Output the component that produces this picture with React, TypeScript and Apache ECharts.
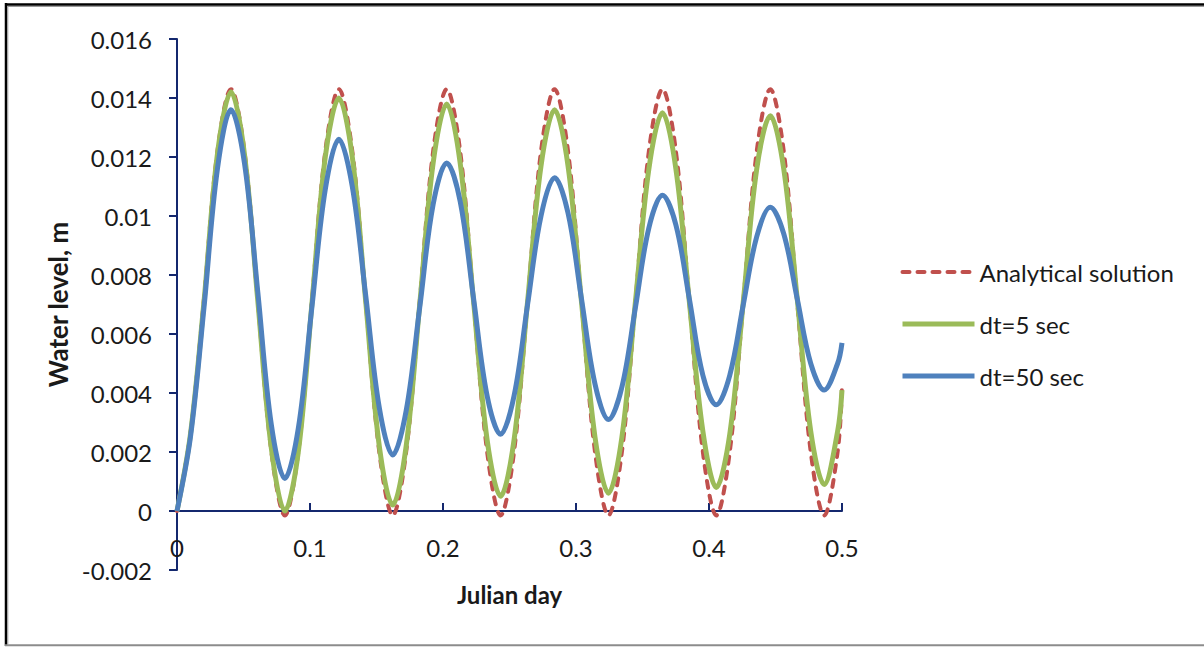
import React, { useEffect, useRef } from "react";
import * as echarts from "echarts";

// Julian day sample points (about eight per tidal cycle)
const julianDay = [
  0, 0.0101, 0.0203, 0.0304, 0.0406, 0.0507, 0.0608, 0.071, 0.0811,
  0.0912, 0.1014, 0.1115, 0.1217, 0.1318, 0.1419, 0.1521, 0.1622,
  0.1723, 0.1825, 0.1926, 0.2028, 0.2129, 0.223, 0.2332, 0.2433,
  0.2534, 0.2636, 0.2737, 0.2839, 0.294, 0.3041, 0.3143, 0.3244,
  0.3345, 0.3447, 0.3548, 0.365, 0.3751, 0.3852, 0.3954, 0.4055,
  0.4156, 0.4258, 0.4359, 0.4461, 0.4562, 0.4663, 0.4765, 0.4866,
  0.4967, 0.5,
];

// Water level, m
const analytical = [
  0, 0.0026, 0.0072, 0.0122, 0.0143, 0.0122, 0.0071, 0.002, -0.00015,
  0.002, 0.0071, 0.0122, 0.0143, 0.0122, 0.0071, 0.002, -0.00015,
  0.002, 0.0071, 0.0122, 0.0143, 0.0122, 0.0071, 0.002, -0.00015,
  0.002, 0.0071, 0.0122, 0.0143, 0.0122, 0.0071, 0.002, -0.00015,
  0.002, 0.0071, 0.0122, 0.0143, 0.0122, 0.0071, 0.002, -0.00015,
  0.002, 0.0071, 0.0122, 0.0143, 0.0122, 0.0071, 0.002, -0.00015,
  0.002, 0.0042,
];

const dt5 = [
  0, 0.0026, 0.0071, 0.0121, 0.0142, 0.0121, 0.0071, 0.0021, 0.0,
  0.002, 0.007, 0.012, 0.014, 0.012, 0.0071, 0.0022, 0.0002,
  0.0022, 0.007, 0.0118, 0.0138, 0.0118, 0.0071, 0.0024, 0.0005,
  0.0024, 0.0071, 0.0117, 0.0136, 0.0117, 0.0071, 0.0025, 0.0006,
  0.0025, 0.0071, 0.0116, 0.0135, 0.0116, 0.0071, 0.0027, 0.0008,
  0.0026, 0.0071, 0.0116, 0.0134, 0.0116, 0.0072, 0.0027, 0.0009,
  0.0027, 0.0041,
];

const dt50 = [
  0, 0.0025, 0.0069, 0.0116, 0.0136, 0.0118, 0.0074, 0.0029, 0.0011,
  0.0028, 0.0069, 0.0109, 0.0126, 0.011, 0.0073, 0.0035, 0.0019,
  0.0034, 0.0069, 0.0104, 0.0118, 0.0105, 0.0072, 0.0039, 0.0026,
  0.0039, 0.007, 0.01, 0.0113, 0.0101, 0.0072, 0.0043, 0.0031,
  0.0042, 0.0069, 0.0096, 0.0107, 0.0097, 0.0072, 0.0046, 0.0036,
  0.0046, 0.007, 0.0093, 0.0103, 0.0094, 0.0072, 0.005, 0.0041,
  0.005, 0.0057,
];

const seriesNames = ["Analytical solution", "dt=5 sec", "dt=50 sec"];

const FONT = "Lato, 'Noto Sans', sans-serif";
const AXIS_COLOR = "#14286E";
const TEXT_COLOR = "#1a1a1a";

const pair = (ys: number[]) => julianDay.map((x, i) => [x, ys[i]]);

export default function App() {
  const ref = useRef<HTMLDivElement>(null);

  useEffect(() => {
    if (!ref.current) return;
    const chart = echarts.init(ref.current, undefined, { renderer: "svg" });

    const trim = (v: number) => String(parseFloat(v.toFixed(4)));

    chart.setOption({
      animation: false,
      backgroundColor: "#ffffff",
      grid: { left: 177, top: 39, right: 362, bottom: 77, outerBoundsMode: "none" },
      legend: {
        orient: "vertical",
        left: 895,
        top: 255,
        itemWidth: 72,
        itemHeight: 24,
        itemGap: 28,
        data: seriesNames,
        itemStyle: { opacity: 0 },
        lineStyle: { width: "inherit" },
        textStyle: { fontFamily: FONT, fontSize: 24, color: TEXT_COLOR, lineHeight: 24 },
      },
      xAxis: {
        type: "value",
        min: 0,
        max: 0.5,
        interval: 0.1,
        name: "Julian day",
        nameLocation: "middle",
        nameGap: 12,
        nameTextStyle: { fontFamily: FONT, fontSize: 24, fontWeight: "bold", color: TEXT_COLOR },
        axisLine: { onZero: true, lineStyle: { color: AXIS_COLOR, width: 2 } },
        axisTick: { show: true, inside: true, length: 8, lineStyle: { color: AXIS_COLOR, width: 2 } },
        axisLabel: { fontFamily: FONT, fontSize: 24, color: TEXT_COLOR, margin: -35, formatter: trim },
        splitLine: { show: false },
      },
      yAxis: {
        type: "value",
        min: -0.002,
        max: 0.016,
        interval: 0.002,
        name: "Water level, m",
        nameLocation: "middle",
        nameGap: 103,
        nameTextStyle: { fontFamily: FONT, fontSize: 26, fontWeight: "bold", color: TEXT_COLOR },
        axisLine: { show: true, lineStyle: { color: AXIS_COLOR, width: 2 } },
        axisTick: { show: true, length: 8, lineStyle: { color: AXIS_COLOR, width: 2 } },
        axisLabel: { fontFamily: FONT, fontSize: 24, color: TEXT_COLOR, margin: 25, formatter: trim },
        splitLine: { show: false },
      },
      series: [
        {
          name: seriesNames[0],
          type: "line",
          data: pair(analytical),
          smooth: 0.35,
          symbol: "none",
          color: "#C0504D",
          lineStyle: { color: "#C0504D", width: 4, type: [7, 8], cap: "round" },
        },
        {
          name: seriesNames[1],
          type: "line",
          data: pair(dt5),
          smooth: 0.35,
          symbol: "none",
          color: "#9BBB59",
          lineStyle: { color: "#9BBB59", width: 5 },
        },
        {
          name: seriesNames[2],
          type: "line",
          data: pair(dt50),
          smooth: 0.35,
          symbol: "none",
          color: "#4F81BD",
          lineStyle: { color: "#4F81BD", width: 5 },
        },
      ],
      graphic: [
        // outer frame
        { type: "line", shape: { x1: 5, y1: 4.5, x2: 1204, y2: 4.5 }, style: { stroke: "#000", lineWidth: 2.5 } },
        { type: "line", shape: { x1: 6, y1: 3, x2: 6, y2: 646 }, style: { stroke: "#000", lineWidth: 2.5 } },
        { type: "line", shape: { x1: 8, y1: 6.5, x2: 1204, y2: 6.5 }, style: { stroke: "#9a9a9a", lineWidth: 1 } },
        { type: "line", shape: { x1: 7.8, y1: 6, x2: 7.8, y2: 644 }, style: { stroke: "#9a9a9a", lineWidth: 1 } },
        { type: "line", shape: { x1: 5, y1: 645.2, x2: 1204, y2: 645.2 }, style: { stroke: "#8c8c8c", lineWidth: 2 } },
      ],
    });

    return () => chart.dispose();
  }, []);

  return (
    <div
      ref={ref}
      style={{ position: "fixed", left: 0, top: 0, width: 1204, height: 647, background: "#fff" }}
    />
  );
}
